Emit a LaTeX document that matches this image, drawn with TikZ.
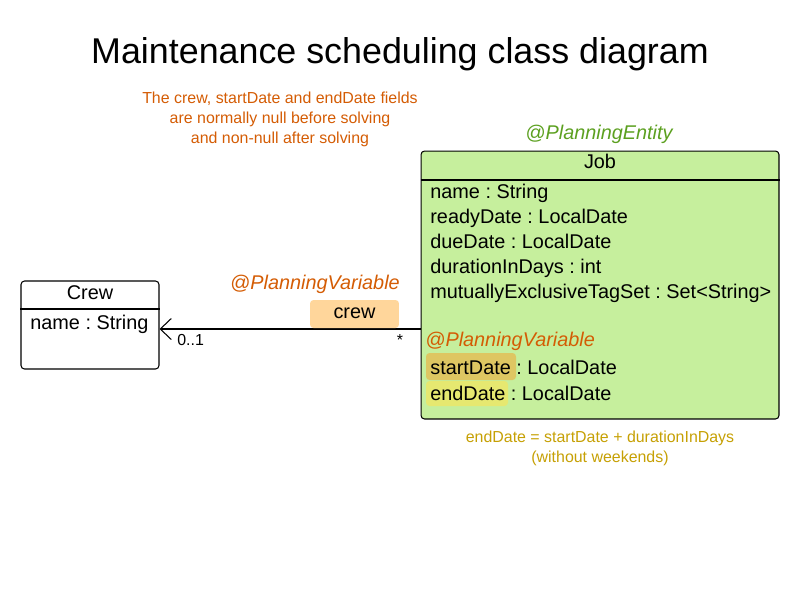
\documentclass[tikz,border=0pt]{standalone}
\usepackage{fontspec}
\setmainfont{Liberation Sans}
\usetikzlibrary{arrows.meta}
\frenchspacing

\definecolor{noteorange}{RGB}{212,92,4}
\definecolor{entitygreen}{RGB}{92,160,32}
\definecolor{notegold}{RGB}{198,160,4}
\definecolor{jobfill}{RGB}{198,239,157}
\definecolor{crewfill}{RGB}{255,214,155}
\definecolor{startfill}{RGB}{222,198,98}
\definecolor{endfill}{RGB}{230,232,112}

\begin{document}
\begin{tikzpicture}[
    x=0.02cm, y=-0.02cm,      % 1 单位 = 1 像素
    >={Straight Barb[length=0.22cm, width=0.42cm]},
    classbox/.style={draw, rounded corners=2pt, line width=0.6pt, inner sep=0pt},
    field/.style={anchor=base west, inner sep=0pt, font=\fontsize{11.3}{13.6}\selectfont},
    annot/.style={inner sep=0pt, font=\fontsize{11.3}{13.6}\selectfont\itshape},
    hilite/.style={rounded corners=2pt, inner sep=0pt},
    smallnote/.style={align=center, inner sep=0pt, font=\fontsize{9.07}{11.34}\selectfont}
]
    \useasboundingbox (0,0) rectangle (800,600);

    % --- 1. 标题与注释 (Title & notes) ---
    \node[inner sep=0pt, anchor=base, font=\fontsize{20.4}{24}\selectfont] (title) at (400,63)
        {Maintenance scheduling class diagram};
    \node[smallnote, text=noteorange] (nullnote) at (280,119)
        {The crew, startDate and endDate fields\\are normally null before solving\\and non-null after solving};
    \node[smallnote, text=notegold] (endnote) at (600,448)
        {endDate = startDate + durationInDays\\(without weekends)};

    % --- 2. Job 类 (Planning entity) ---
    \node[annot, anchor=base, text=entitygreen] (entity) at (599,139) {@PlanningEntity};
    \node[classbox, fill=jobfill, minimum width=7.16cm, minimum height=5.36cm] (job) at (600,285) {};
    \draw[line width=0.6pt] (job.west |- 0,180) -- (job.east |- 0,180);
    \node[field, anchor=base] (jobtitle) at (600,168) {Job};

    % 高亮 startDate / endDate
    \fill[hilite, startfill] (426,353) rectangle (516,380);
    \fill[hilite, endfill] (426,381) rectangle (508,406);

    \node[field] (jname) at (430,198) {name : String};
    \node[field] (jready) at (430,223) {readyDate : LocalDate};
    \node[field] (jdue) at (430,248) {dueDate : LocalDate};
    \node[field] (jdur) at (430,273) {durationInDays : int};
    \node[field] (jtags) at (430,298) {mutuallyExclusiveTagSet : Set<String>};
    \node[annot, anchor=base west, text=noteorange] (jvar) at (425,346) {@PlanningVariable};
    \node[field] (jstart) at (430,374) {startDate : LocalDate};
    \node[field] (jend) at (430,400) {endDate : LocalDate};

    % --- 3. Crew 类 ---
    \node[classbox, minimum width=2.76cm, minimum height=1.76cm] (crew) at (90,325) {};
    \draw[line width=0.6pt] (crew.west |- 0,309) -- (crew.east |- 0,309);
    \node[field, anchor=base] (crewtitle) at (90,299) {Crew};
    \node[field] (cname) at (30,329) {name : String};

    % --- 4. 关联 Job -> Crew ---
    \draw[->, line width=0.6pt] (job.west |- 0,329) -- (crew.east |- 0,329);
    \node[annot, anchor=base, text=noteorange] (cvar) at (315,289) {@PlanningVariable};
    \node[hilite, fill=crewfill, minimum width=1.78cm, minimum height=0.56cm] (crewlabel) at (354.5,314) {};
    \node[field, anchor=base] (crewtext) at (354.5,318) {crew};
    \node[smallnote, anchor=base west] (mult) at (177,345) {0..1};
    \node[smallnote, anchor=base] (many) at (400,345) {*};

\end{tikzpicture}
\end{document}
